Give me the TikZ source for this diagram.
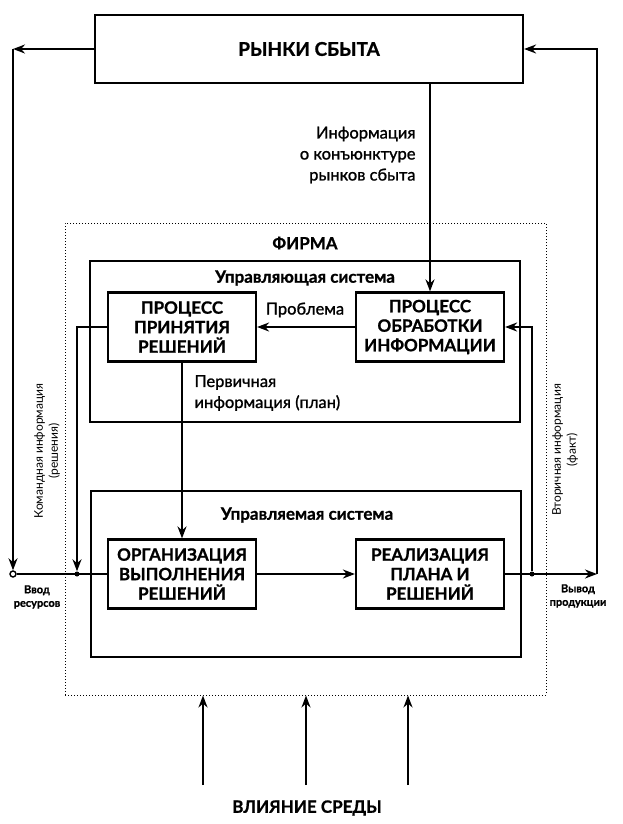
\documentclass[tikz,border=0pt]{standalone}
\usepackage{fontspec}
\setmainfont{Lato}[BoldFeatures={FakeBold=1}]
\newfontfamily\mediumfont{Lato}[FakeBold=1.2]
\usetikzlibrary{arrows.meta,positioning}

\begin{document}
\begin{tikzpicture}[x=1pt, y=-1pt,
    block/.style={rectangle, draw, line width=2.2pt, minimum width=148pt, minimum height=69pt, inner sep=0pt, font=\fontsize{17}{19.5}\selectfont\bfseries, align=center},
    sysbox/.style={rectangle, draw, line width=1.6pt, minimum width=430pt, inner sep=0pt},
    arr/.style={-{Stealth[length=12pt, width=9pt]}, line width=1.9pt},
    wire/.style={line width=1.9pt},
    dot/.style={circle, fill, inner sep=0pt, minimum size=5pt},
    caption/.style={font=\fontsize{17}{20}\selectfont\bfseries},
    note/.style={font=\fontsize{16.5}{21}\selectfont\mediumfont, align=left},
    side/.style={font=\fontsize{12}{15}\selectfont, align=center, rotate=90},
    tag/.style={font=\fontsize{11}{13.5}\selectfont\bfseries, align=center}
]
    \useasboundingbox (0,0) rectangle (623,824);

    % Frames
    \node[draw, dotted, line width=1pt, minimum width=481pt, minimum height=472pt, inner sep=0pt] (firm) at (305.5,459) {};
    \node[sysbox, minimum height=161pt] (control) at (305,341.5) {};
    \node[sysbox, minimum height=166pt] (managed) at (306,574) {};

    % Blocks
    \node[block, minimum width=428pt, minimum height=68pt, font=\fontsize{19}{22}\selectfont\bfseries] (markets) at (309,49) {РЫНКИ СБЫТА};
    \node[block] (decide) at (182,327) {ПРОЦЕСС\\ПРИНЯТИЯ\\РЕШЕНИЙ};
    \node[block] (process) at (430,327) {ПРОЦЕСС\\ОБРАБОТКИ\\ИНФОРМАЦИИ};
    \node[block] (organize) at (182,574) {ОРГАНИЗАЦИЯ\\ВЫПОЛНЕНИЯ\\РЕШЕНИЙ};
    \node[block] (realize) at (430,574) {РЕАЛИЗАЦИЯ\\ПЛАНА И\\РЕШЕНИЙ};

    % Junctions
    \node[circle, draw, fill=white, line width=1.4pt, inner sep=0pt, minimum size=6pt] (input) at (13,574) {};
    \node[dot] (cmd) at (77,574) {};
    \node[dot] (fact) at (532,574) {};
    \coordinate (output) at (597,574);
    \coordinate (mktL) at (13,49);
    \foreach \x/\n in {203/envA, 306/envB, 408/envC}
        \coordinate (\n) at (\x,785);

    % Arrows
    \draw[arr] (markets.west) -- (mktL);
    \draw[arr] (mktL) -- (input);
    \draw[wire] (input) -- (organize.west);
    \draw[arr] (organize) -- (realize);
    \draw[arr] (realize.east) -- (output);
    \draw[arr] (output) |- (markets.east);
    \draw[arr] (fact) |- (process.east);
    \draw[arr] (process.north |- markets.south) -- (process.north);
    \draw[arr] (process) -- (decide);
    \draw[arr] (decide.south) -- (decide.south |- organize.north);
    \draw[arr] (decide.west) -| (cmd);
    \foreach \n in {envA, envB, envC}
        \draw[arr] (\n) -- (\n |- firm.south);

    % Labels
    \node[caption] (firmlabel) at (305,243) {ФИРМА};
    \node[caption] (controllabel) at (305,278) {Управляющая система};
    \node[caption] (managedlabel) at (307,515) {Управляемая система};
    \node[caption] (envlabel) at (307,808) {ВЛИЯНИЕ СРЕДЫ};
    \node[note, align=right, anchor=east] (infolabel) at (419,155) {Информация\\о конъюнктуре\\рынков сбыта};
    \node[note] (problabel) at (305,310) {Проблема};
    \node[note, anchor=west] (planlabel) at (191,393) {Первичная\\информация (план)};
    \node[side] (cmdlabel) at (47,451) {Командная информация\\(решения)};
    \node[side] (factlabel) at (565,450) {Вторичная информация\\(факт)};
    \node[tag] (inlabel) at (37,597) {Ввод\\ресурсов};
    \node[tag] (outlabel) at (578,596) {Вывод\\продукции};
\end{tikzpicture}
\end{document}
